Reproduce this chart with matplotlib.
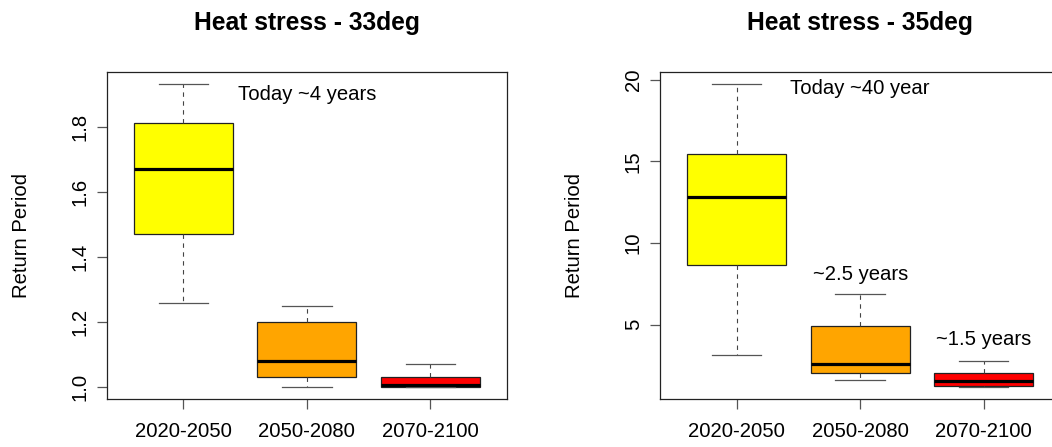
#!/usr/bin/env python3
"""
Return period boxplots for heat stress at 33 and 35 degrees.

"""
import matplotlib
matplotlib.use("Agg")
from matplotlib import pyplot as plt

plt.rcParams["font.family"] = ["Liberation Sans", "DejaVu Sans"]

periods = ["2020-2050", "2050-2080", "2070-2100"]

# 33 degrees: whisker low, Q1, median, Q3, whisker high
low33 = [1.26, 1.00, 1.00]
q1_33 = [1.47, 1.03, 1.00]
med33 = [1.67, 1.08, 1.006]
q3_33 = [1.81, 1.20, 1.03]
high33 = [1.93, 1.25, 1.07]

# 35 degrees
low35 = [3.15, 1.60, 1.18]
q1_35 = [8.68, 2.05, 1.28]
med35 = [12.79, 2.58, 1.54]
q3_35 = [15.47, 4.92, 2.05]
high35 = [19.70, 6.89, 2.76]

box_colors = ["#FFFF00", "#FFA500", "#FF0000"]

W, H = 1052, 447
fig = plt.figure(figsize=(W / 100, H / 100), dpi=100)


def panel(left_px, low, q1, med, q3, high, title, yticks, notes):
    ax = fig.add_axes([left_px / W, (H - 399.3) / H, 400.3 / W, 327 / H])
    stats = []
    for i in range(len(periods)):
        stats.append(dict(whislo=low[i], q1=q1[i], med=med[i], q3=q3[i],
                          whishi=high[i], label=periods[i]))
    bp = ax.bxp(stats, positions=[1, 2, 3], widths=0.8, capwidths=0.4,
                showfliers=False, patch_artist=True,
                boxprops=dict(edgecolor="#222222", linewidth=0.9),
                medianprops=dict(color="black", linewidth=2.3,
                                 solid_capstyle="butt"),
                whiskerprops=dict(color="#444444", linewidth=0.8,
                                  linestyle=(0, (4, 4))),
                capprops=dict(color="#555555", linewidth=0.9))
    for patch, c in zip(bp["boxes"], box_colors):
        patch.set_facecolor(c)

    # R style 4% padding
    lo, hi = min(low), max(high)
    pad = (hi - lo) * 0.04
    ax.set_ylim(lo - pad, hi + pad)
    ax.set_xlim(0.38, 3.62)

    ax.set_yticks(yticks)
    ax.set_yticklabels([("%g" % v) if v >= 5 else ("%.1f" % v) for v in yticks],
                       rotation=90, va="center")
    ax.set_xticks([1, 2, 3])
    ax.set_xticklabels(periods)
    ax.tick_params(axis="both", labelsize=14.6, length=7.5, width=0.9,
                   color="#555555", labelcolor="black")
    ax.tick_params(axis="x", pad=9)
    ax.tick_params(axis="y", pad=5)
    for sp in ax.spines.values():
        sp.set_color("#222222")
        sp.set_linewidth(0.9)

    ax.set_ylabel("Return Period", fontsize=14.6)
    ax.yaxis.label.set_va("center")
    ax.yaxis.set_label_coords(-85 / 400.3, 0.5)

    ax.text(0.5, 1 + 49.3 / 327, title, transform=ax.transAxes,
            ha="center", va="center", fontsize=17.7, fontweight="bold")

    for x, y, s in notes:
        ax.text(x, y, s, ha="center", va="center", fontsize=14.6)
    return ax


panel(106.7, low33, q1_33, med33, q3_33, high33, "Heat stress - 33deg",
      [1.0, 1.2, 1.4, 1.6, 1.8],
      [(2, 1.898, "Today ~4 years")])

panel(660.0, low35, q1_35, med35, q3_35, high35, "Heat stress - 35deg",
      [5, 10, 15, 20],
      [(2, 19.45, "Today ~40 year"), (2, 8.07, "~2.5 years"),
       (3, 4.10, "~1.5 years")])

fig.savefig("out.png", dpi=100)
